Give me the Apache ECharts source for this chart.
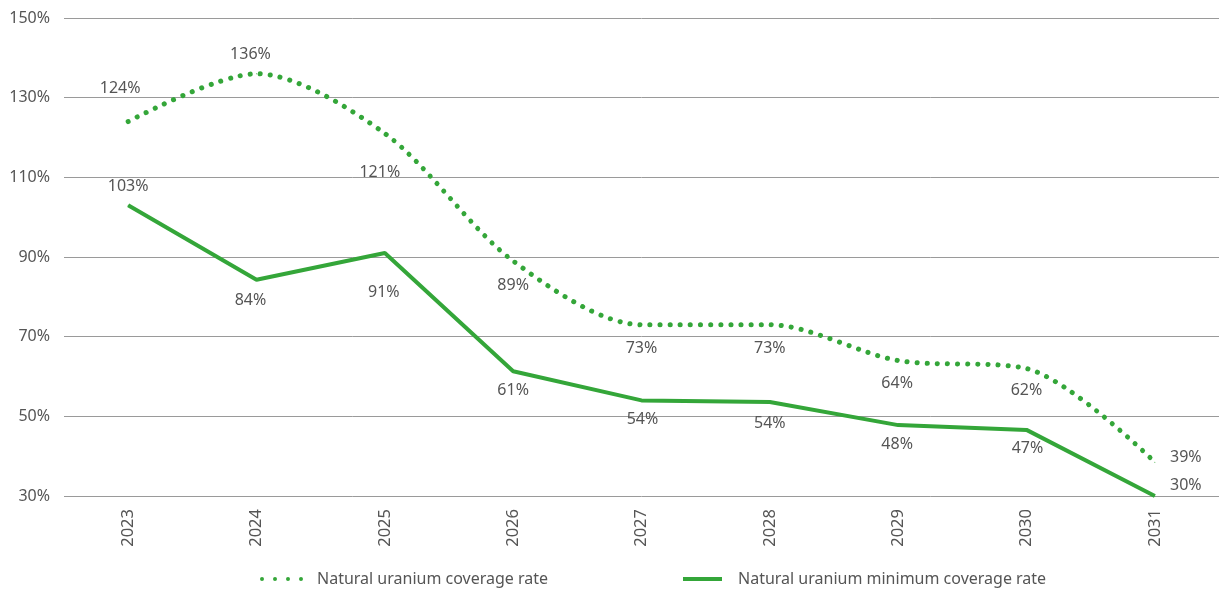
<!DOCTYPE html>
<html><head><meta charset="utf-8">
<script src="https://cdn.jsdelivr.net/npm/echarts@6/dist/echarts.min.js"></script>
<style>html,body{margin:0;padding:0;background:#fff}#c{width:1219px;height:590px}</style>
</head><body><div id="c"></div>
<script>
const years = ['2023','2024','2025','2026','2027','2028','2029','2030','2031'];
const coverage = [124, 136, 121, 89, 73, 73, 64, 62, 38.5];
const minimum = [103, 84.3, 91, 61.3, 54, 53.6, 47.8, 46.6, 30];
const coverageLabels = ['124%','136%','121%','89%','73%','73%','64%','62%','39%'];
const minimumLabels = ['103%','84%','91%','61%','54%','54%','48%','47%','30%'];
const yTicks = [30, 50, 70, 90, 110, 130, 150];

// label offsets (layout only)
const covOff = [[-8,-33],[-6,-19],[-5,39],[0,24],[0,24],[0,24],[-1,23],[0,22],[31,-5]];
const minOff = [[0,-19],[-6,21],[-1,39],[0,19],[1,19],[0,21],[-1,19],[1,19],[31,-11]];

const green = '#34a639';
const txt = '#555555';
const font = 'Noto Sans';

function build(vals, labels, offs) {
  return vals.map((v, i) => ({
    value: v,
    label: { show: true, position: 'inside', offset: offs[i], formatter: labels[i],
      color: txt, fontFamily: font, fontSize: 16 }
  }));
}

const dotsIcon = 'path://M0,2a2,2 0 1,0 4,0a2,2 0 1,0 -4,0M13,2a2,2 0 1,0 4,0a2,2 0 1,0 -4,0M26,2a2,2 0 1,0 4,0a2,2 0 1,0 -4,0M39,2a2,2 0 1,0 4,0a2,2 0 1,0 -4,0';

const chart = echarts.init(document.getElementById('c'));
chart.setOption({
  animation: false,
  grid: { left: 64, right: -2, top: 18, bottom: 94 },
  xAxis: {
    type: 'category', data: years, boundaryGap: true,
    axisLine: { show: false }, axisTick: { show: false },
    axisLabel: { rotate: 90, color: txt, fontFamily: font, fontSize: 16.5, margin: 13 }
  },
  yAxis: {
    type: 'value', min: 30, max: 150, interval: 20,
    axisLabel: { color: txt, fontFamily: font, fontSize: 16, margin: 14,
      formatter: v => yTicks.includes(v) ? v + '%' : '' },
    splitLine: { lineStyle: { color: '#9a9a9a', width: 1 } },
    axisLine: { show: false }, axisTick: { show: false }
  },
  legend: [
    { left: 255, top: 566, itemWidth: 43, itemHeight: 4, icon: dotsIcon,
      data: [{ name: 'Natural uranium coverage rate' }],
      textStyle: { color: txt, fontFamily: font, fontSize: 16, padding: [0, 0, 0, 9] } },
    { left: 678, top: 566, itemWidth: 39, itemHeight: 4, icon: 'rect',
      data: [{ name: 'Natural uranium minimum coverage rate' }],
      textStyle: { color: txt, fontFamily: font, fontSize: 16, padding: [0, 0, 0, 11] } }
  ],
  series: [
    { name: 'Natural uranium coverage rate', type: 'line', smooth: 0.3,
      data: build(coverage, coverageLabels, covOff),
      symbol: 'circle', symbolSize: 1, itemStyle: { color: green },
      lineStyle: { color: green, width: 5, type: [0.1, 10], cap: 'round' } },
    { name: 'Natural uranium minimum coverage rate', type: 'line', smooth: false,
      data: build(minimum, minimumLabels, minOff),
      symbol: 'circle', symbolSize: 1, itemStyle: { color: green },
      lineStyle: { color: green, width: 4 } }
  ]
});
</script></body></html>
